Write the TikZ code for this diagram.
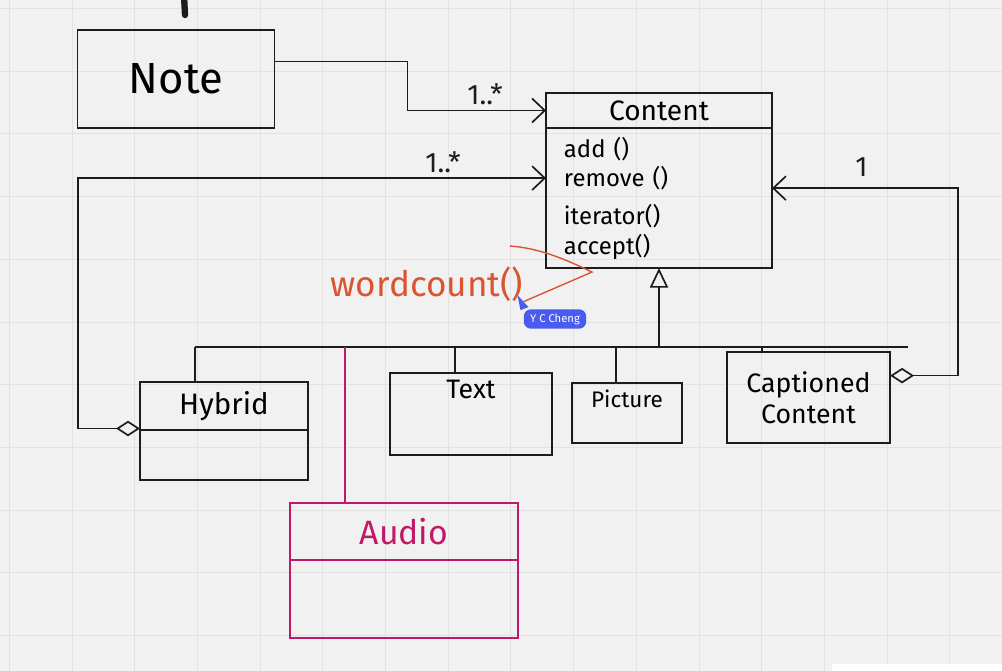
\documentclass[tikz,border=0pt]{standalone}
\usepackage{fontspec}
\setmainfont{Fira Sans}
\usepackage{tikz}
\usetikzlibrary{arrows.meta,positioning,shapes.geometric,calc}
\definecolor{paper}{HTML}{F1F1F1}
\definecolor{gridline}{HTML}{E2E2E2}
\definecolor{ink}{HTML}{1C1C1C}
\definecolor{audiopink}{HTML}{C2186A}
\definecolor{notered}{HTML}{D9552F}
\definecolor{tagblue}{HTML}{4A5CF0}

\begin{document}
\begin{tikzpicture}[
  x=0.025cm, y=-0.025cm,
  box/.style={draw=ink, line width=1.2pt, outer sep=0pt, font=\fontsize{19}{22}\selectfont, inner sep=2pt},
  pinkbox/.style={box, draw=audiopink, text=audiopink},
  line/.style={draw=ink, line width=1.2pt},
  arr/.style={line, -{Straight Barb[length=9pt, width=17pt]}},
  agg/.style={line, {Diamond[open, length=17pt, width=11pt]}-{Straight Barb[length=9pt, width=17pt]}},
  inherit/.style={line, -{Triangle[open, length=14pt, width=13pt]}},
  mult/.style={font=\fontsize{20}{22}\selectfont, text=ink},
  classname/.style={font=\fontsize{19}{22}\selectfont, anchor=north, inner sep=5pt}
]
  \useasboundingbox (0,0) rectangle (1002,671);
  \fill[paper] (0,0) rectangle (1002,671);
  \foreach \gx in {0,...,15}
    \draw[gridline, line width=0.6pt] ({9.3+\gx*62.7},0) -- ({9.3+\gx*62.7},671);
  \foreach \gy in {0,...,10}
    \draw[gridline, line width=0.6pt] (0,{8.5+\gy*62.7}) -- (1002,{8.5+\gy*62.7});
  \fill[white] (832,664) rectangle (1002,671);
  \draw[ink, line width=4.5pt, line cap=round] (184,-5) -- (185,15);

  \node[box, minimum width=4.93cm, minimum height=2.45cm, font=\fontsize{31}{34}\selectfont] (note) at (176,79) {Note};

  \node[box, minimum width=5.65cm, minimum height=0.875cm, font=\fontsize{20}{22}\selectfont] (contentHead) at (659,110.5) {Content};
  \node[box, below=0pt of contentHead, minimum width=5.65cm, minimum height=3.5cm, text width=4.75cm,
        inner xsep=0.45cm, align=left, font=\fontsize{17}{21}\selectfont] (contentBody)
        {add ()\\ remove ()\\[6pt] iterator()\\ accept()};

  \node[box, minimum width=4.2cm, minimum height=1.2cm, font=\fontsize{21}{23}\selectfont] (hybridHead) at (224,406) {Hybrid};
  \node[box, below=0pt of hybridHead, minimum width=4.2cm, minimum height=1.25cm] (hybridBody) {};
  \node[box, minimum width=4.05cm, minimum height=2.05cm, label={[name=textName, classname]north:Text}] (textBox) at (471,414) {};
  \node[box, minimum width=2.75cm, minimum height=1.5cm, label={[name=pictureName, classname, font=\fontsize{16}{18}\selectfont]north:Picture}] (pictureBox) at (627,413) {};
  \node[box, minimum width=4.08cm, minimum height=2.28cm, align=center, font=\fontsize{19}{22}\selectfont] (captioned) at (808.5,397.5) {Captioned\\Content};

  \node[pinkbox, minimum width=5.7cm, minimum height=1.43cm, font=\fontsize{24}{26}\selectfont] (audioHead) at (404,531.5) {Audio};
  \node[pinkbox, below=0pt of audioHead, minimum width=5.7cm, minimum height=1.95cm] (audioBody) {};

  \node[font=\fontsize{25}{27}\selectfont, text=notered, inner sep=0pt] (wc) at (427,284) {wordcount()};
  \node[fill=tagblue, text=white, rounded corners=5pt, font=\fontsize{8}{9}\selectfont, inner xsep=4.5pt, inner ysep=3pt] (cheng) at (555,319) {Y C Cheng};
  \fill[tagblue] ($(cheng.north west)+(-6,-14)$) -- ($(cheng.north west)+(5,-2)$) -- ($(cheng.north west)+(-3,1)$) -- cycle;

  \coordinate (busL) at (195,347);
  \coordinate (busR) at (908,347);
  \draw[line] (busL) -- (busR);
  \draw[inherit] (contentBody.south |- busL) -- (contentBody.south);
  \draw[line] (busL) -- (busL |- hybridHead.north);
  \foreach \jx/\cls in {455/textBox, 616/pictureBox, 762/captioned}
    \draw[line] (\jx,347) -- (\jx,347 |- \cls.north);
  \draw[line, draw=audiopink] (345,347) -- (345,347 |- audioHead.north);

  \draw[arr] (note.10) -- ++(133,0) |- (contentHead.west) node[mult, pos=0.78, above] {1..*};
  \draw[agg] (hybridHead.195) -- ++(-62,0) |- (contentBody.170) node[mult, pos=0.89, above] {1..*};
  \draw[agg] (captioned.15) -- ++(68,0) |- (contentBody.5) node[mult, pos=0.76, above=4pt] {1};

  \draw[notered, line width=1pt] (wc.south east) -- ($(contentBody.south west)+(46,4)$)
    .. controls +(-25,-12) and +(30,2) .. ($(contentBody.south west)+(-36,-22)$);
\end{tikzpicture}
\end{document}
